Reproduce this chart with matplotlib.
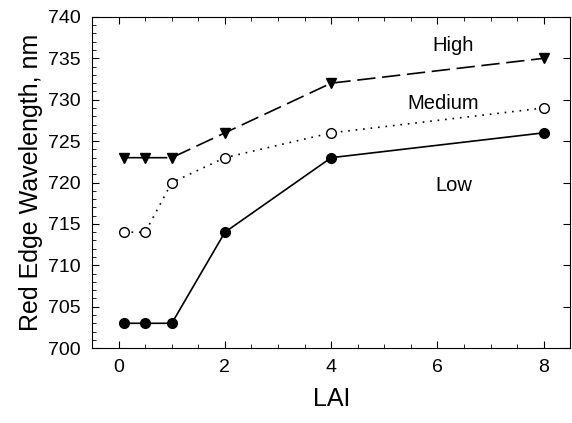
import matplotlib
matplotlib.use("Agg")
import matplotlib.pyplot as plt
from matplotlib.ticker import MultipleLocator

plt.rcParams['font.family'] = ['Liberation Sans', 'DejaVu Sans']

lai = [0.1, 0.5, 1, 2, 4, 8]
low = [703, 703, 703, 714, 723, 726]
medium = [714, 714, 720, 723, 726, 729]
high = [723, 723, 723, 726, 732, 735]

fig = plt.figure(figsize=(5.72, 4.23), dpi=100)
ax = fig.add_axes([0.161, 0.177, 0.836, 0.783])

ax.plot(lai, low, '-', color='black', lw=1.2, marker='o', ms=7, mfc='black', mec='black')
ax.plot(lai, medium, color='black', lw=1.2, dashes=(1, 3.5), marker='o', ms=7, mfc='white', mec='black', mew=1.0)
ax.plot(lai, high, color='black', lw=1.2, dashes=(11, 4), marker='v', ms=7, mfc='black', mec='black')

ax.text(6.3, 736.6, 'High', fontsize=14.5, ha='center', va='center')
ax.text(6.1, 729.6, 'Medium', fontsize=14.5, ha='center', va='center')
ax.text(6.3, 719.7, 'Low', fontsize=14.5, ha='center', va='center')

ax.set_xlim(-0.5, 8.5)
ax.set_ylim(700, 740)
ax.xaxis.set_major_locator(MultipleLocator(2))
ax.xaxis.set_minor_locator(MultipleLocator(0.5))
ax.yaxis.set_major_locator(MultipleLocator(5))
ax.yaxis.set_minor_locator(MultipleLocator(1))
ax.tick_params(which='both', direction='in', top=True, right=True, labelsize=14, pad=8)
ax.tick_params(which='major', length=5)
ax.tick_params(which='minor', length=3)
ax.tick_params(axis='y', which='minor', right=False)

ax.set_xlabel('LAI', fontsize=18, labelpad=8)
ax.set_ylabel('Red Edge Wavelength, nm', fontsize=18, labelpad=4)

fig.savefig('out.png', dpi=100)
